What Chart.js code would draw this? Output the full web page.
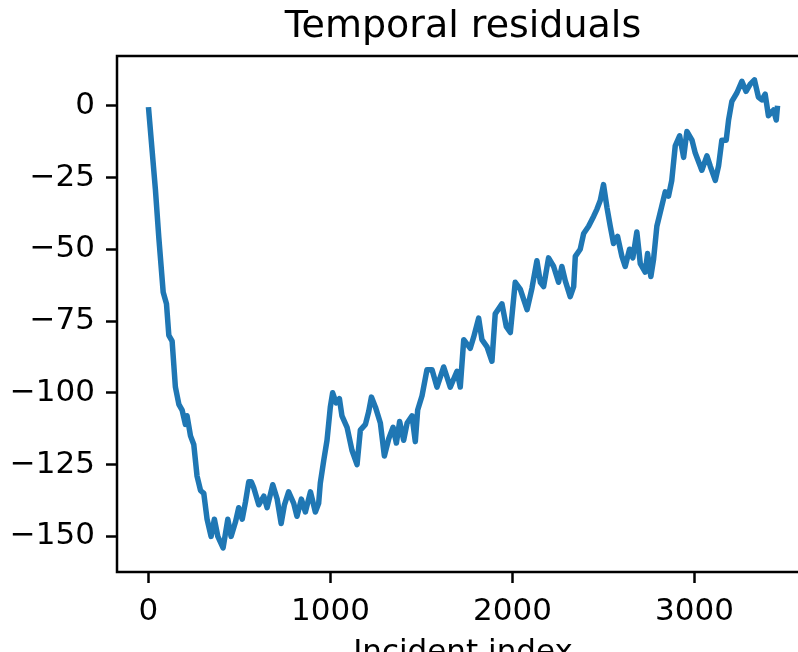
<!DOCTYPE html>
<html>
<head>
<meta charset="utf-8">
<script src="https://cdn.jsdelivr.net/npm/chart.js@4.4.1/dist/chart.umd.min.js"></script>
<style>
  html, body { margin: 0; padding: 0; background: #fff; overflow: hidden; }
  #wrap { width: 798px; height: 652px; overflow: hidden; }
</style>
</head>
<body>
<div id="wrap"><canvas id="myChart" width="820" height="672"></canvas></div>
<script>
// values
var incidentIdx = [0, 38, 57, 81, 99, 112, 130, 148, 167, 185, 203, 212, 231, 249, 267, 286, 304, 322, 344, 362,
  381, 410, 436, 454, 478, 496, 515, 533, 551, 565, 578, 606, 634, 652, 683, 707, 729, 747, 770, 798,
  816, 840, 862, 890, 917, 935, 944, 963, 981, 999, 1012, 1031, 1049, 1063, 1091, 1118, 1146, 1164, 1192, 1210,
  1225, 1247, 1274, 1296, 1320, 1344, 1362, 1380, 1402, 1421, 1448, 1466, 1479, 1503, 1530, 1558, 1585, 1622, 1658, 1695,
  1713, 1732, 1768, 1787, 1814, 1832, 1860, 1887, 1905, 1942, 1966, 1988, 2015, 2043, 2080, 2107, 2134, 2153, 2171, 2198,
  2226, 2253, 2271, 2290, 2317, 2336, 2345, 2372, 2391, 2418, 2446, 2464, 2482, 2500, 2519, 2537, 2555, 2577, 2601, 2619,
  2643, 2661, 2683, 2702, 2729, 2742, 2760, 2775, 2793, 2820, 2839, 2857, 2875, 2894, 2918, 2940, 2958, 2986, 3004, 3040,
  3068, 3086, 3114, 3132, 3150, 3174, 3187, 3205, 3233, 3260, 3283, 3306, 3329, 3351, 3370, 3388, 3406, 3434, 3449, 3456];
var residual = [-0.5, -29, -46, -65, -69, -80, -82, -98, -104, -106, -111, -108, -115, -118, -129, -134, -135, -144, -150, -144,
  -150, -154, -144, -150, -145, -140, -144, -138, -131, -131, -133, -139, -136, -140, -132, -137, -145.5, -139, -134.5, -138.5,
  -143, -137, -141.5, -134.5, -141.5, -138.5, -131.5, -123.5, -116.5, -105, -100, -103.5, -102, -108, -112, -120, -125, -113, -111, -106.5,
  -101.5, -105, -110.5, -122, -116, -112, -117.5, -110, -116.5, -110.5, -108, -117, -106, -101, -92, -92, -98, -91, -98, -92.5,
  -98, -81.5, -84.5, -80.5, -74, -81.5, -84, -89, -72.5, -69, -77, -79, -61.5, -64, -71, -63.5, -54, -61.5, -63, -53,
  -56, -61.5, -56, -61, -66.5, -63, -52.5, -50, -44.5, -42, -38.5, -36, -33, -27.5, -35.5, -42, -48, -45.5, -52.5, -56,
  -50, -53, -44, -55, -58, -51.5, -59.5, -53.5, -42, -35, -30, -31.5, -26, -14, -10.5, -18, -9, -12, -16.5, -22.5,
  -17.5, -21, -26, -21, -12, -12, -5, 1.5, 4.5, 8.5, 5, 7.5, 9, 3, 2, 4, -3.5, -1.5, -5, 0];
var xTicks = [0, 1000, 2000, 3000];
var yTicks = [-150, -125, -100, -75, -50, -25, 0];

Chart.defaults.font.family = "'DejaVu Sans', sans-serif";
Chart.defaults.color = '#000';

var ctx = document.getElementById('myChart');

// matplotlib-like box around the plot
var frame = {
  id: 'frame',
  afterDraw: function (chart) {
    var a = chart.chartArea, c = chart.ctx;
    c.save();
    c.strokeStyle = '#000';
    c.lineWidth = 2.5;
    c.strokeRect(a.left, a.top, a.right - a.left, a.bottom - a.top);
    c.restore();
  }
};

var myChart = new Chart(ctx, {
  type: 'line',
  data: {
    datasets: [
      {
        label: 'residual',
        data: incidentIdx.map(function (x, i) { return { x: x, y: residual[i] }; }),
        borderColor: '#1f77b4',
        backgroundColor: '#1f77b4',
        borderWidth: 5.5,
        borderJoinStyle: 'round',
        pointRadius: 0,
        fill: false,
        tension: 0
      }
    ]
  },
  options: {
    responsive: false,
    animation: false,
    layout: { padding: { left: 0, right: 11, top: 0, bottom: 0 } },
    plugins: {
      legend: { display: false },
      tooltip: { enabled: false },
      title: {
        display: true,
        fullSize: false,
        text: 'Temporal residuals',
        color: '#000',
        font: { size: 38, weight: 'normal' },
        padding: { top: 4, bottom: 6.4 }
      }
    },
    scales: {
      x: {
        type: 'linear',
        min: -172.8,
        max: 3628.8,
        afterBuildTicks: function (s) { s.ticks = xTicks.map(function (v) { return { value: v }; }); },
        afterFit: function (s) { s.height = 100; },
        ticks: { font: { size: 31 }, padding: 10, maxRotation: 0, callback: function (v) { return String(v); } },
        grid: { drawOnChartArea: false, drawTicks: true, tickLength: 11, tickWidth: 2.5, tickColor: '#000' },
        border: { display: false },
        title: { display: true, text: 'Incident index', font: { size: 31 }, padding: 0 }
      },
      y: {
        type: 'linear',
        min: -162.4,
        max: 17.3,
        afterBuildTicks: function (s) { s.ticks = yTicks.map(function (v) { return { value: v }; }); },
        afterFit: function (s) { s.width = 117; },
        ticks: { font: { size: 31 }, padding: 11, callback: function (v) { return String(v).replace('-', '\u2212'); } },
        grid: { drawOnChartArea: false, drawTicks: true, tickLength: 11, tickWidth: 2.5, tickColor: '#000' },
        border: { display: false }
      }
    }
  },
  plugins: [frame]
});
</script>
</body>
</html>
